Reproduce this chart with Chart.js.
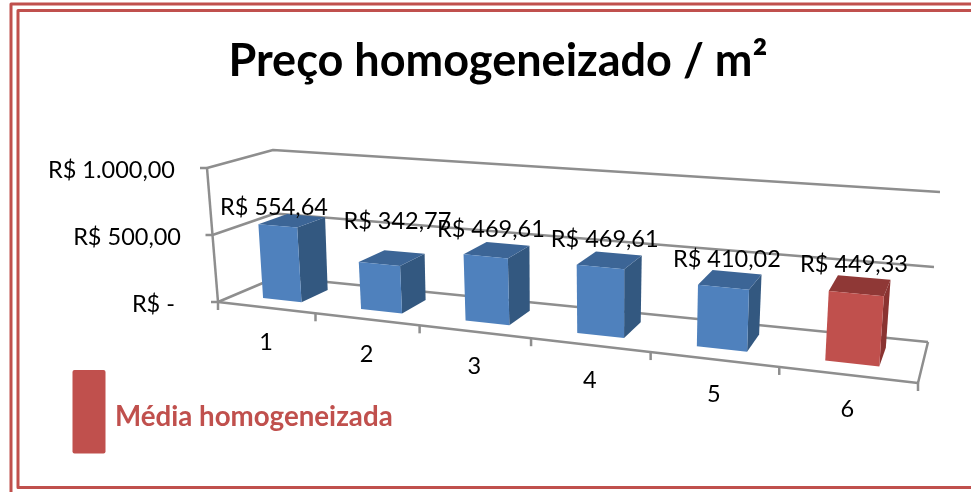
<!DOCTYPE html>
<html lang="pt-BR">
<head>
<meta charset="utf-8">
<title>Preço homogeneizado / m²</title>
<script src="https://cdn.jsdelivr.net/npm/chart.js@4"></script>
<style>
  html, body { margin: 0; padding: 0; background: #fff; }
  #wrap { width: 971px; height: 492px; overflow: hidden; }
</style>
</head>
<body>
<div id="wrap"><canvas id="chart" width="971" height="492"></canvas></div>
<script>
const categories = ['1', '2', '3', '4', '5', '6'];
const precos = [554.64, 342.77, 469.61, 469.61, 410.02, 449.33];
const yTicks = [0, 500, 1000];
const yTickLabels = ['R$ -', 'R$ 500,00', 'R$ 1.000,00'];
const titleText = 'Preço homogeneizado / m²';
const mediaLabel = 'Média homogeneizada';

const FONT = 'Lato, Carlito, sans-serif';
const RED = '#c0504d';
const GRID = '#8e8e8e';
const front = ['#4f81bd', '#4f81bd', '#4f81bd', '#4f81bd', '#4f81bd', RED];
const side = ['#335880', '#335880', '#335880', '#335880', '#335880', '#8a3331'];
const top3d = ['#3c6596', '#3c6596', '#3c6596', '#3c6596', '#3c6596', '#8f3836'];

// corners of the 3d box on the page: floor and ceiling, [front-left, front-right, back-right, back-left]
const FLOOR = [[218, 302], [918, 383], [928, 342], [277, 277]];
const CEIL = [[207, 168], [930, 222], [940, 192], [273, 150]];
const DEPTH = [0.27, 0.74]; // how far the bars sit from front edge
const SPREAD = 1.1; // eases the perspective along the width
// the value labels were placed by hand in the original
const labelShift = [[-32, -8], [-7, -31], [-17, -15], [-14, -14], [-10, -13], [-10, -13]];
const yLabelShift = [0, 6, 0];

// unit square -> quad homography
function quadMap(q) {
  const [[x0, y0], [x1, y1], [x2, y2], [x3, y3]] = q;
  const dx1 = x1 - x2, dx2 = x3 - x2, sx = x0 - x1 + x2 - x3;
  const dy1 = y1 - y2, dy2 = y3 - y2, sy = y0 - y1 + y2 - y3;
  const den = dx1 * dy2 - dx2 * dy1;
  const g = (sx * dy2 - dx2 * sy) / den;
  const h = (dx1 * sy - sx * dy1) / den;
  const a = x1 - x0 + g * x1, b = x3 - x0 + h * x3;
  const d = y1 - y0 + g * y1, e = y3 - y0 + h * y3;
  return (u, v) => {
    const w = g * u + h * v + 1;
    return [(a * u + b * v + x0) / w, (d * u + e * v + y0) / w];
  };
}
const floorAt = quadMap(FLOOR);
const ceilAt = quadMap(CEIL);

function project(u, d, h) {
  const s = SPREAD * u / (SPREAD * u + 1 - u);
  const f = floorAt(s, d), c = ceilAt(s, d);
  return [f[0] + (c[0] - f[0]) * h, f[1] + (c[1] - f[1]) * h];
}

function poly(ctx, pts, fill) {
  ctx.beginPath();
  pts.forEach((p, i) => i ? ctx.lineTo(p[0], p[1]) : ctx.moveTo(p[0], p[1]));
  ctx.closePath();
  ctx.fillStyle = fill;
  ctx.fill();
}

function path(ctx, pts) {
  ctx.beginPath();
  pts.forEach((p, i) => i ? ctx.lineTo(p[0], p[1]) : ctx.moveTo(p[0], p[1]));
  ctx.stroke();
}

function money(v) {
  return 'R$ ' + v.toFixed(2).replace('.', ',');
}

const box3d = {
  id: 'box3d',
  beforeDraw(chart) {
    const ctx = chart.ctx;
    ctx.save();
    ctx.strokeStyle = RED;
    ctx.lineWidth = 3;
    ctx.lineJoin = 'round';
    path(ctx, [[11, 500], [11, 4], [980, 4]]);
    path(ctx, [[980, 10.5], [18, 10.5], [18, 487.5], [980, 487.5]]);
    ctx.restore();
  },
  // walls and bars are projected here, the flat bars are skipped
  beforeDatasetsDraw(chart) {
    const ctx = chart.ctx;
    const { x: xs, y: ys } = chart.scales;
    const area = chart.chartArea;
    const toU = px => (px - area.left) / (area.right - area.left);
    const toH = py => (ys.getPixelForValue(0) - py) / (ys.getPixelForValue(0) - ys.getPixelForValue(1000));

    ctx.save();
    ctx.strokeStyle = GRID;
    ctx.lineWidth = 2.5;
    ctx.lineJoin = 'round';

    // back wall + left wall gridlines
    yTicks.forEach(t => {
      const h = toH(ys.getPixelForValue(t));
      const a = project(0, 0, h), b = project(0, 1, h), c = project(1, 1, h);
      path(ctx, [a, b, c]);
      path(ctx, [[a[0] - 7, a[1]], a]);
    });
    path(ctx, [project(0, 0, 1), project(0, 0, 0)]);

    // floor front edge and ticks
    path(ctx, [project(0, 0, 0), project(1, 0, 0), project(1, 1, 0)]);
    for (let i = 0; i <= categories.length; i++) {
      const p = project(i / categories.length, 0, 0);
      path(ctx, [p, [p[0], p[1] + 8]]);
    }

    const meta = chart.getDatasetMeta(0);
    meta.data.forEach((bar, i) => {
      const u0 = toU(bar.x - bar.width / 2), u1 = toU(bar.x + bar.width / 2);
      const h = toH(bar.y);
      const [d0, d1] = DEPTH;
      poly(ctx, [project(u1, d0, 0), project(u1, d1, 0), project(u1, d1, h), project(u1, d0, h)], side[i]);
      poly(ctx, [project(u0, d0, h), project(u1, d0, h), project(u1, d1, h), project(u0, d1, h)], top3d[i]);
      poly(ctx, [project(u0, d0, 0), project(u1, d0, 0), project(u1, d0, h), project(u0, d0, h)], front[i]);
    });

    // x labels under the front edge
    ctx.fillStyle = '#000';
    ctx.font = '23.5px ' + FONT;
    ctx.textAlign = 'center';
    ctx.textBaseline = 'middle';
    categories.forEach((c, i) => {
      const p = project(toU(xs.getPixelForValue(i)), 0, 0);
      ctx.fillText(c, p[0], p[1] + 35);
    });

    // value labels
    meta.data.forEach((bar, i) => {
      const p = project(toU(bar.x), DEPTH[1], toH(bar.y));
      ctx.fillText(money(precos[i]), p[0] + labelShift[i][0], p[1] + labelShift[i][1]);
    });

    // y labels, 500 sits a bit further right than the other two
    ctx.textAlign = 'right';
    ys.ticks.forEach((t, i) => {
      ctx.fillText(t.label, area.left - 8 + yLabelShift[i], ys.getPixelForValue(t.value) - 1);
    });

    // legend note
    ctx.fillStyle = RED;
    ctx.beginPath();
    ctx.roundRect(72.5, 370, 33, 83.5, 2);
    ctx.fill();
    ctx.font = 'bold 27.7px ' + FONT;
    ctx.textAlign = 'left';
    ctx.fillText(mediaLabel, 115, 417);
    ctx.restore();
    return false;
  },
};

new Chart(document.getElementById('chart'), {
  type: 'bar',
  data: {
    labels: categories,
    datasets: [{
      label: 'Preço homogeneizado / m²',
      data: precos,
      backgroundColor: front,
      barPercentage: 0.4,
      categoryPercentage: 1,
    }],
  },
  options: {
    responsive: false,
    animation: false,
    layout: { padding: { left: 25, right: 0, bottom: 187, top: 0 } },
    plugins: {
      legend: { display: false },
      tooltip: { enabled: false },
      title: {
        display: true,
        text: titleText,
        color: '#000',
        font: { family: FONT, size: 45, weight: 'bold' },
        padding: { top: 34, bottom: 83 },
      },
    },
    scales: {
      x: { display: false },
      y: {
        min: 0,
        max: 1000,
        afterFit: s => { s.width = 158; },
        afterBuildTicks: s => { s.ticks = yTicks.map(v => ({ value: v })); },
        grid: { display: false },
        border: { display: false },
        ticks: {
          display: false,
          callback: v => yTickLabels[yTicks.indexOf(v)],
        },
      },
    },
  },
  plugins: [box3d],
});
</script>
</body>
</html>
